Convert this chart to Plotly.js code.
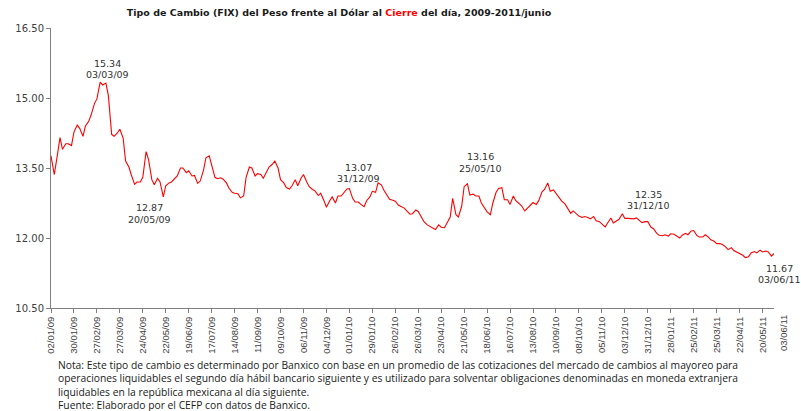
<!DOCTYPE html>
<html><head><meta charset="utf-8">
<script src="https://cdn.plot.ly/plotly-3.0.1.min.js"></script>
<style>html,body{margin:0;padding:0;background:#fff}#chart{width:801px;height:411px}</style>
</head><body><div id="chart"></div>
<script>
// Weekly samples: each Friday followed by the next Tuesday, starting 02/01/09
const fixValues = [
13.76,13.36, 13.69,14.15, 13.90,14.02, 14.02,13.98, 14.27,14.42, 14.35,14.18, 14.40,14.50, 14.64,14.88,
14.98,15.34, 15.28,15.32, 15.05,14.22, 14.18,14.25, 14.33,14.14, 13.65,13.52, 13.35,13.15, 13.20,13.20,
13.30,13.85, 13.68,13.25, 13.14,13.28, 13.20,12.88, 13.12,13.18, 13.20,13.28, 13.33,13.50, 13.50,13.40,
13.44,13.33, 13.34,13.17, 13.22,13.45, 13.72,13.76, 13.55,13.30, 13.27,13.29, 13.26,13.18, 13.07,12.98,
12.96,12.95, 12.86,12.90, 13.30,13.52, 13.50,13.33, 13.38,13.36, 13.28,13.40, 13.52,13.58, 13.65,13.50,
13.25,13.18, 13.08,13.05, 13.12,13.25, 13.12,13.28, 13.36,13.20, 13.10,13.04, 13.01,12.91, 12.96,12.80,
12.66,12.80, 12.88,12.75, 12.90,12.90, 12.96,13.05, 13.06,12.85, 12.77,12.77, 12.72,12.67, 12.80,12.88,
13.00,12.98, 13.18,13.14, 13.03,12.90, 12.83,12.81, 12.79,12.70, 12.67,12.64, 12.58,12.51, 12.52,12.60,
12.57,12.45, 12.35,12.28, 12.25,12.21, 12.18,12.28, 12.23,12.22, 12.32,12.45, 12.85,12.50, 12.45,12.68,
13.10,13.16, 12.92,12.94, 12.90,12.90, 12.75,12.64, 12.56,12.50, 12.75,12.98, 13.06,13.08, 12.82,12.82,
12.72,12.90, 12.80,12.74, 12.69,12.58, 12.63,12.70, 12.76,12.72, 12.80,12.99, 13.04,13.18, 13.00,13.03,
12.95,12.86, 12.79,12.73, 12.63,12.53, 12.58,12.51, 12.47,12.44, 12.46,12.44, 12.41,12.46, 12.37,12.35,
12.31,12.24, 12.32,12.43, 12.32,12.36, 12.40,12.52, 12.42,12.42, 12.42,12.41, 12.43,12.37, 12.33,12.35,
12.35,12.23, 12.20,12.10, 12.06,12.05, 12.07,12.04, 12.09,12.08, 12.05,12.00, 12.06,12.10, 12.07,12.15,
12.16,12.05, 12.02,12.02, 12.07,12.02, 11.96,11.93, 11.88,11.88, 11.86,11.81, 11.75,11.79, 11.73,11.69,
11.67,11.63, 11.58,11.60, 11.68,11.71, 11.68,11.74, 11.70,11.72, 11.70,11.61, 11.67
];
const tickLabels = ['02/01/09','30/01/09','27/02/09','27/03/09','24/04/09','22/05/09','19/06/09','17/07/09',
'14/08/09','11/09/09','09/10/09','06/11/09','04/12/09','01/01/10','29/01/10','26/02/10','26/03/10','23/04/10',
'21/05/10','18/06/10','16/07/10','13/08/10','10/09/10','08/10/10','05/11/10','03/12/10','31/12/10','28/01/11',
'25/02/11','25/03/11','22/04/11','20/05/11'];
const endLabel = '03/06/11';
const yTickVals = [10.5, 12, 13.5, 15, 16.5];
const annDates = ['03/03/09','20/05/09','31/12/09','25/05/10','31/12/10','03/06/11'];
const annValues = [15.34, 12.87, 13.07, 13.16, 12.35, 11.67];
const noteLines = [
 'Nota: Este tipo de cambio es determinado por Banxico con base en un promedio de las cotizaciones del mercado de cambios al mayoreo para',
 'operaciones liquidables el segundo día hábil bancario siguiente y es utilizado para solventar obligaciones denominadas en moneda extranjera',
 'liquidables en la república mexicana al día siguiente.',
 'Fuente: Elaborado por el CEFP con datos de Banxico.'
];

function toISO(s){const p=s.split('/');return '20'+p[2]+'-'+p[1]+'-'+p[0];}
const DAY=86400000, t0=Date.UTC(2009,0,2);
const dates=[];
for(let k=0;dates.length<fixValues.length;k++){
  dates.push(new Date(t0+7*k*DAY).toISOString().slice(0,10));
  if(dates.length<fixValues.length) dates.push(new Date(t0+(7*k+4)*DAY).toISOString().slice(0,10));
}

// [xshift, value-line yshift, date-line yshift]
const annShift = [[7,19,8],[-15,-10,-22],[10,21,9.5],[13,27,15],[1,27.5,16],[5,-15,-26]];
const annFont = {family:'DejaVu Sans', size:9.5, color:'#333333'};
const annotations = [];
annDates.forEach((d,i)=>{
  const s = annShift[i];
  annotations.push({xref:'x',yref:'y',x:toISO(d),y:annValues[i],text:annValues[i].toFixed(2),showarrow:false,
    xanchor:'center',yanchor:'middle',xshift:s[0],yshift:s[1],font:annFont});
  annotations.push({xref:'x',yref:'y',x:toISO(d),y:annValues[i],text:d,showarrow:false,
    xanchor:'center',yanchor:'middle',xshift:s[0],yshift:s[2],font:annFont});
});
// last category label on the axis
annotations.push({xref:'x',yref:'paper',x:toISO(endLabel),y:0,text:endLabel,textangle:-90,showarrow:false,
  xanchor:'center',yanchor:'top',xshift:9,yshift:-5,font:{family:'Liberation Sans',size:9.5,color:'#404040'}});
// note block
annotations.push({xref:'paper',yref:'paper',x:0,y:0,text:noteLines.join('<br>'),showarrow:false,
  xanchor:'left',yanchor:'middle',align:'left',xshift:6,yshift:-77,borderpad:0,
  font:{family:'Open Sans',size:10.3,color:'#1a1a1a'}});

const trace = {type:'scatter',mode:'lines',x:dates,y:fixValues,line:{color:'#ff0000',width:1.1},hoverinfo:'skip'};

const layout = {
  width:801,height:411,
  margin:{l:51,r:27,t:28,b:103},
  paper_bgcolor:'#ffffff',plot_bgcolor:'#ffffff',
  showlegend:false,
  title:{text:'Tipo de Cambio (FIX) del Peso frente al Dólar al <span style="color:#ff0000">Cierre</span> del día, 2009-2011/junio',
    font:{family:'DejaVu Sans',size:9.5,color:'#1a1a1a',weight:'bold'},
    xref:'container',yref:'container',x:339/801,xanchor:'center',y:1-13/411,yanchor:'middle'},
  xaxis:{type:'date',range:[toISO(tickLabels[0]),toISO(endLabel)],tickmode:'array',
    tickvals:tickLabels.map(toISO),ticktext:tickLabels,tickangle:-90,
    ticks:'outside',ticklen:4,tickcolor:'#808080',showline:true,linecolor:'#808080',linewidth:1,
    showgrid:false,zeroline:false,tickfont:{family:'Liberation Sans',size:9.5,color:'#404040'}},
  yaxis:{range:[10.5,16.5],tickmode:'array',tickvals:yTickVals,ticktext:yTickVals.map(v=>v.toFixed(2)),
    ticks:'outside',ticklen:4,tickcolor:'#808080',showline:true,linecolor:'#808080',linewidth:1,
    showgrid:false,zeroline:false,tickfont:{family:'DejaVu Sans',size:10,color:'#404040'}},
  annotations:annotations
};
Plotly.newPlot('chart',[trace],layout,{displayModeBar:false,staticPlot:true});
</script></body></html>
